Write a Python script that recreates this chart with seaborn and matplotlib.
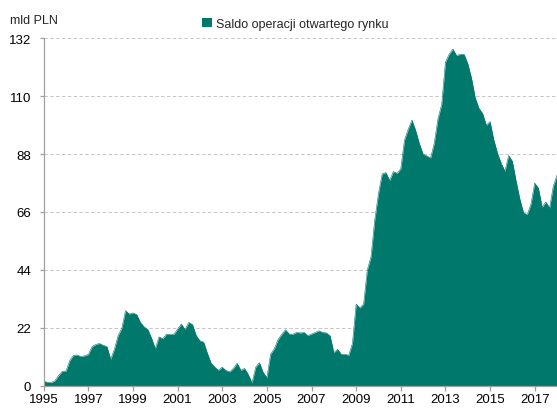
import numpy as np
import pandas as pd
import matplotlib
matplotlib.use("Agg")
import matplotlib.pyplot as plt
from matplotlib.patches import Patch
import seaborn as sns

# Bimonthly observations starting Jan 1995 (mld PLN)
values_1995_1999 = [1.7, 1.2, 1.1, 1.8, 3.8, 5.4,
                    5.5, 9.5, 11.5, 11.6, 11.0, 11.3,
                    11.8, 14.8, 15.6, 16.0, 15.3, 14.8,
                    10.0, 13.8, 19.0, 21.8, 28.5, 27.2,
                    27.6, 27.0, 24.0, 22.3, 21.3, 18.0]
values_2000_2004 = [14.0, 18.5, 17.8, 19.5, 19.4, 19.5,
                    21.5, 23.4, 21.3, 24.0, 23.2, 19.0,
                    17.0, 16.5, 12.3, 8.5, 7.0, 5.8,
                    7.0, 5.7, 5.2, 6.5, 8.5, 5.8,
                    6.5, 4.2, 1.0, 7.0, 8.7, 5.0]
values_2005_2009 = [3.0, 12.0, 14.0, 17.5, 19.5, 21.2,
                    19.6, 19.5, 20.2, 20.0, 20.2, 19.0,
                    19.6, 20.2, 20.8, 20.2, 20.0, 18.9,
                    12.5, 13.8, 11.9, 11.9, 11.5, 16.0,
                    31.0, 29.5, 31.0, 44.0, 49.0, 63.0]
values_2010_2014 = [73.0, 80.5, 81.0, 78.0, 81.4, 80.7,
                    82.5, 93.4, 97.5, 101.0, 97.0, 92.0,
                    88.0, 87.3, 86.5, 92.2, 101.5, 107.0,
                    123.0, 126.0, 128.0, 125.5, 126.0, 126.0,
                    122.5, 117.0, 109.5, 105.5, 103.5, 99.0]
values_2015_2018 = [100.4, 93.5, 88.4, 84.5, 81.5, 87.5,
                    85.3, 77.8, 71.0, 65.7, 65.0, 69.0,
                    77.0, 75.1, 67.8, 69.8, 67.5, 75.8,
                    80.0]

values = values_1995_1999 + values_2000_2004 + values_2005_2009 + values_2010_2014 + values_2015_2018
start_year = 1995
years = [start_year + i / 6 for i in range(len(values))]

y_ticks = [0, 22, 44, 66, 88, 110, 132]
x_ticks = list(range(1995, 2018, 2))
series_label = "Saldo operacji otwartego rynku"
unit_label = "mld PLN"
color = "#00786C"

df = pd.DataFrame({"year": years, "value": values})

sns.set_style("white")
plt.rcParams["font.family"] = ["Liberation Sans", "DejaVu Sans"]

fig = plt.figure(figsize=(5.57, 4.10), dpi=100)
ax = fig.add_axes([0.0785, 0.0573, 1 - 0.0785, 0.9037 - 0.0573])

sns.lineplot(data=df, x="year", y="value", ax=ax, color=color, linewidth=0.4)
ax.fill_between(df["year"], 0, df["value"], color=color, linewidth=0)

ax.set_xlim(1995, years[-1])
ax.set_ylim(0, 132)
ax.set_xticks(x_ticks)
ax.set_xticklabels([str(t) for t in x_ticks])
ax.set_yticks(y_ticks)
ax.set_yticklabels([str(t) for t in y_ticks])
ax.set_xlabel("")
ax.set_ylabel("")

ax.yaxis.grid(True, linestyle=(0, (3.5, 2.5)), color="#C6C6C6", linewidth=0.7)
ax.xaxis.grid(False)
ax.set_axisbelow(True)

for s in ["top", "right"]:
    ax.spines[s].set_visible(False)
for s in ["left", "bottom"]:
    ax.spines[s].set_color("#A0A0A0")
    ax.spines[s].set_linewidth(0.9)

ax.tick_params(axis="y", length=3, width=0.9, color="#A0A0A0", pad=6, labelsize=9.5,
               labelcolor="black", direction="out", left=True)
ax.tick_params(axis="x", length=3.5, width=0.9, color="#A0A0A0", pad=2, labelsize=9.5,
               labelcolor="black", direction="out", bottom=True)

fig.text(0.018, 0.949, unit_label, fontsize=9, va="center", ha="left")
handle = Patch(facecolor=color, edgecolor="none")
fig.legend([handle], [series_label], loc="center", bbox_to_anchor=(0.53, 0.939),
           frameon=False, fontsize=9, handlelength=0.75, handleheight=0.75,
           handletextpad=0.3, borderaxespad=0)

fig.savefig("out.png", dpi=100)
